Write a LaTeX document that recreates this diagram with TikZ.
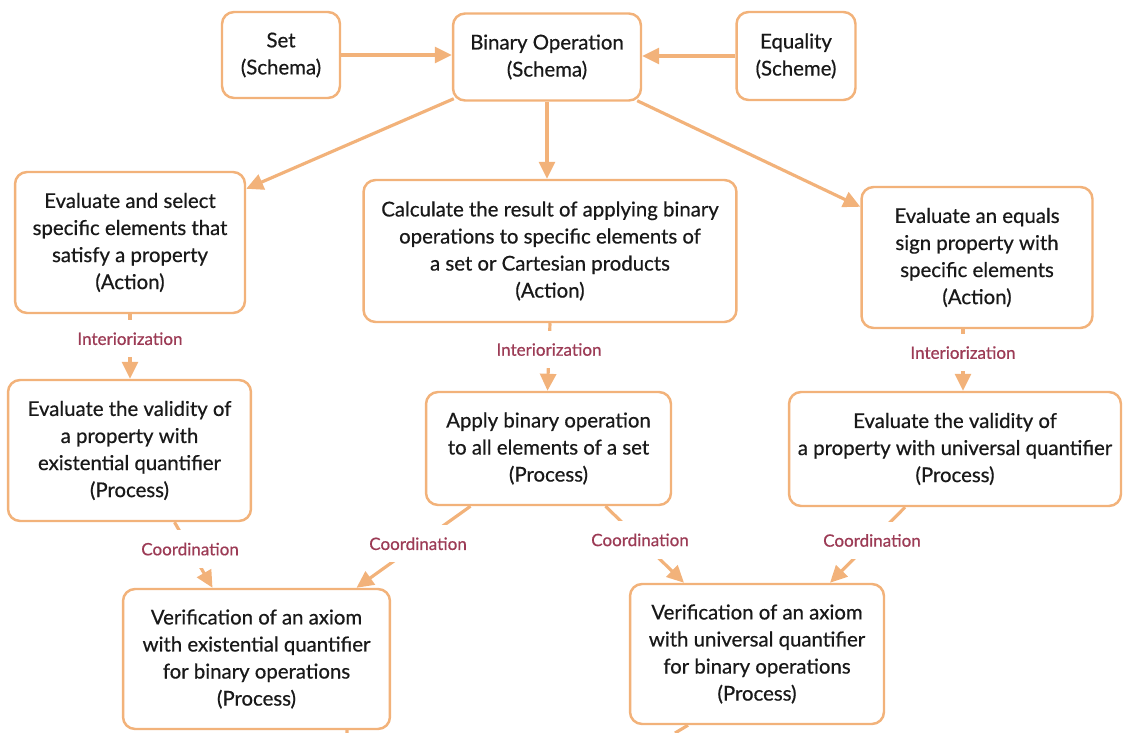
\documentclass[tikz,border=0pt]{standalone}
\usepackage{fontspec}
\setmainfont{Lato}[UprightFeatures={FakeBold=0.6}]
\usepackage{xcolor}
\usepackage{tikz}
\usetikzlibrary{arrows.meta, calc}

\definecolor{boxorange}{HTML}{F2B27A}
\definecolor{lblred}{HTML}{9C3B55}

\begin{document}
\begin{tikzpicture}[
  x=0.02cm, y=-0.02cm,
  arrow/.style={-{Triangle[length=0.34cm, width=0.32cm]}, line width=1.8pt, draw=boxorange},
  stub/.style={line width=1.8pt, draw=boxorange},
  box/.style={draw=boxorange, line width=1.4pt, rounded corners=0.24cm, align=center, fill=white, font=\fontsize{11.6}{15.4}\selectfont, text=black!90},
  lbl/.style={font=\fontsize{9.7}{11}\selectfont, text=lblred, fill=white, inner xsep=2pt, inner ysep=7pt}
]

  \useasboundingbox (0,0) rectangle (1129,733);

  % TOP: Schemas
  \node[box, minimum width=2.36cm, minimum height=1.72cm] (set) at (281, 55) {Set\\(Schema)};
  \node[box, minimum width=3.76cm, minimum height=1.74cm] (binop) at (547, 57) {Binary Operation\\(Schema)};
  \node[box, minimum width=2.38cm, minimum height=1.76cm] (equality) at (796, 56) {Equality\\(Scheme)};

  \draw[arrow] (set) -- (set -| binop.west);
  \draw[arrow] (equality) -- (equality -| binop.east);

  % ACTIONS
  \node[box, minimum width=4.6cm, minimum height=2.82cm] (evalsel) at (130, 242.5) {Evaluate and select\\specific elements that\\satisfy a property\\(Action)};
  \node[box, minimum width=7.46cm, minimum height=2.84cm] (calc) at (550, 251) {Calculate the result of applying binary\\operations to specific elements of\\a set or Cartesian products\\(Action)};
  \node[box, minimum width=4.62cm, minimum height=2.82cm] (evaleq) at (977, 257.5) {Evaluate an equals\\sign property with\\specific elements\\(Action)};

  \draw[arrow] ($(binop.south west)+(2,-3)$) -- ($(evalsel.north east)+(0,18)$);
  \draw[arrow] (binop.south) -- (binop.south |- calc.north);
  \draw[arrow] ($(binop.south east)+(-5,-1)$) -- ($(evaleq.north west)+(0,21)$);

  % PROCESSES
  \node[box, minimum width=4.86cm, minimum height=2.82cm] (validex) at (129.5, 450.5) {Evaluate the validity of\\a property with\\existential quantifier\\(Process)};
  \node[box, minimum width=4.9cm, minimum height=2.26cm] (apply) at (548.5, 448.5) {Apply binary operation\\to all elements of a set\\(Process)};
  \node[box, minimum width=6.64cm, minimum height=2.28cm] (validuni) at (955, 449) {Evaluate the validity of\\a property with universal quantifier\\(Process)};

  \draw[arrow] (evalsel.south) -- node[lbl, pos=0.38] {Interiorization} (evalsel.south |- validex.north);
  \draw[arrow] (calc.south) -- node[lbl, pos=0.39] {Interiorization} ($(apply.north)+(-1,0)$);
  \draw[arrow] ($(evaleq.south)+(-14,0)$) -- node[lbl, pos=0.38] {Interiorization} ($(evaleq.south |- validuni.north)+(-14,0)$);

  % VERIFICATIONS
  \node[box, minimum width=5.34cm, minimum height=2.8cm] (verex) at (256.5, 659) {Verification of an axiom\\with existential quantifier\\for binary operations\\(Process)};
  \node[box, minimum width=5.08cm, minimum height=2.8cm] (veruni) at (757, 654) {Verification of an axiom\\with universal quantifier\\for binary operations\\(Process)};

  \draw[arrow] ($(validex.south)+(45,0)$) -- node[lbl, pos=0.41] {Coordination} ($(verex.north)+(-44,0)$);
  \draw[arrow] ($(apply.south)+(-78,0)$) -- node[lbl, pos=0.46] {Coordination} ($(verex.north)+(100,0)$);
  \draw[arrow] ($(apply.south)+(57,0)$) -- node[lbl, pos=0.44] {Coordination} ($(veruni.north)+(-73,0)$);
  \draw[arrow] ($(validuni.south)+(-50,0)$) -- node[lbl, pos=0.44] {Coordination} ($(veruni.north)+(73,0)$);

  % Outgoing connectors at the lower edge
  \coordinate (outex) at (347, 733);
  \coordinate (outuni) at (675, 733);
  \draw[stub] ($(verex.south)+(90.5,0)$) -- (outex);
  \draw[stub] ($(veruni.south)+(-69,0)$) -- (outuni);

\end{tikzpicture}
\end{document}
